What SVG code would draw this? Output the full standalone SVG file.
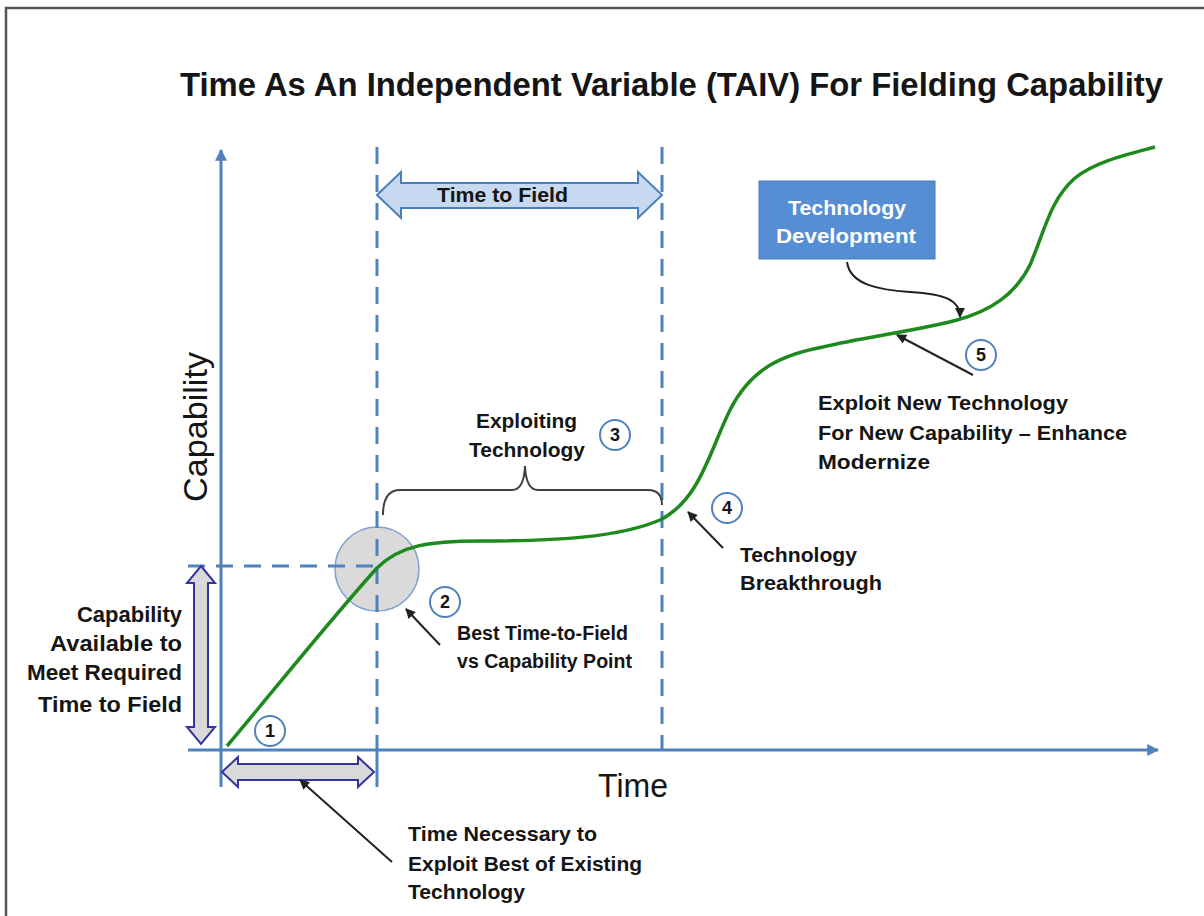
<svg xmlns="http://www.w3.org/2000/svg" width="1204" height="916" viewBox="0 0 1204 916">
<style>
text{font-family:"Liberation Sans",Arial,sans-serif;fill:#151515}
.b{font-weight:bold;font-size:21px}
.l{font-size:22.5px}
.s{font-size:19.5px}
.axis{stroke:#4f81bd;stroke-width:3;fill:none}
.dash{stroke:#4f81bd;stroke-width:3;fill:none;stroke-dasharray:17 11}
.num{fill:#fff;stroke:#4f81bd;stroke-width:2}
.nt{font-weight:bold;font-size:18px;text-anchor:middle}
.ptr{stroke:#222;stroke-width:2;fill:none;marker-end:url(#ah)}
.dbl{fill:#d9d9d9;stroke:#34349c;stroke-width:2}
</style>
<defs>
<marker id="ah" viewBox="0 0 10 10" refX="9" refY="5" markerWidth="12" markerHeight="10" markerUnits="userSpaceOnUse" orient="auto"><path d="M0,0 L10,5 L0,10 Z" fill="#222"/></marker>
<marker id="ax" viewBox="0 0 10 10" refX="9" refY="5" markerWidth="12" markerHeight="12" markerUnits="userSpaceOnUse" orient="auto"><path d="M0,0 L10,5 L0,10 Z" fill="#4f81bd"/></marker>
</defs>
<rect x="0" y="0" width="1204" height="916" fill="#fff"/>
<rect x="6" y="8" width="1220" height="940" fill="none" stroke="#555" stroke-width="2.5"/>
<g id="title"><text x="180" y="96" font-size="32.5" font-weight="bold" textLength="983" lengthAdjust="spacingAndGlyphs">Time As An Independent Variable (TAIV) For Fielding Capability</text></g>
<g id="best-point"><circle cx="377" cy="569" r="42" fill="#d4d4d4" fill-opacity="0.85" stroke="#7f9fcf" stroke-width="1.5"/></g>
<g id="axes">
<path class="axis" d="M221,787 L221,150" marker-end="url(#ax)"/>
<path class="axis" d="M188,750 L1158,750" marker-end="url(#ax)"/>
<path class="axis" d="M377,750 L377,787"/>
<path class="dash" d="M377,147 L377,750"/>
<path class="dash" d="M662,147 L662,750"/>
<path class="dash" d="M188,566 L377,566"/>
<text transform="translate(207,427) rotate(-90)" font-size="34" text-anchor="middle" textLength="150" lengthAdjust="spacingAndGlyphs">Capability</text>
<text x="598" y="797" font-size="33" textLength="70" lengthAdjust="spacingAndGlyphs">Time</text>
</g>
<g id="curve"><path d="M227,746 C280,683 330,620 377,568 C400,545 430,541 480,541 C560,541 620,537 660,520 C700,500 710,450 730,410 C750,370 780,355 823,347 C860,338 920,330 957,320 C990,311 1015,295 1030,265 C1045,230 1050,200 1075,178 C1095,162 1125,155 1155,147" fill="none" stroke="#1e8a1e" stroke-width="3.5"/></g>
<g id="time-to-field">
<path d="M377,195 L401,172 L401,183 L638,183 L638,172 L662,195 L638,218 L638,208 L401,208 L401,218 Z" fill="#c6d9f1" stroke="#4a7ebb" stroke-width="2"/>
<text class="b" x="437" y="202" textLength="131" lengthAdjust="spacingAndGlyphs">Time to Field</text>
</g>
<g id="capability-available">
<path class="dbl" d="M201,566 L215,583 L208,583 L208,727 L215,727 L201,744 L187,727 L194,727 L194,583 L187,583 Z"/>
<text class="b l" x="182" y="622" text-anchor="end" textLength="105" lengthAdjust="spacingAndGlyphs">Capability</text>
<text class="b l" x="182" y="651" text-anchor="end" textLength="132" lengthAdjust="spacingAndGlyphs">Available to</text>
<text class="b l" x="182" y="680" text-anchor="end" textLength="155" lengthAdjust="spacingAndGlyphs">Meet Required</text>
<text class="b l" x="182" y="712" text-anchor="end" textLength="144" lengthAdjust="spacingAndGlyphs">Time to Field</text>
</g>
<g id="time-necessary">
<path class="dbl" d="M222,772 L238,757 L238,764 L358,764 L358,757 L374,772 L358,787 L358,780 L238,780 L238,787 Z"/>
<text class="b" x="408" y="841" textLength="189" lengthAdjust="spacingAndGlyphs">Time Necessary to</text>
<text class="b" x="408" y="871" textLength="234" lengthAdjust="spacingAndGlyphs">Exploit Best of Existing</text>
<text class="b" x="408" y="899" textLength="117" lengthAdjust="spacingAndGlyphs">Technology</text>
</g>
<g id="exploiting">
<path d="M383,515 Q383,490 400,490 L512,490 Q524,490 525,466 Q526,490 538,490 L648,490 Q662,490 662,505" fill="none" stroke="#404040" stroke-width="2"/>
<text class="b" x="476" y="428" textLength="101" lengthAdjust="spacingAndGlyphs">Exploiting</text>
<text class="b" x="469" y="457" textLength="116" lengthAdjust="spacingAndGlyphs">Technology</text>
</g>
<g id="best-label">
<text class="b s" x="457" y="640" textLength="171" lengthAdjust="spacingAndGlyphs">Best Time-to-Field</text>
<text class="b s" x="457" y="668" textLength="175" lengthAdjust="spacingAndGlyphs">vs Capability Point</text>
</g>
<g id="breakthrough">
<text class="b" x="740" y="562" textLength="117" lengthAdjust="spacingAndGlyphs">Technology</text>
<text class="b" x="740" y="590" textLength="142" lengthAdjust="spacingAndGlyphs">Breakthrough</text>
</g>
<g id="exploit-new">
<text class="b" x="818" y="410" textLength="250" lengthAdjust="spacingAndGlyphs">Exploit New Technology</text>
<text class="b" x="818" y="440" textLength="309" lengthAdjust="spacingAndGlyphs">For New Capability – Enhance</text>
<text class="b" x="818" y="469" textLength="112" lengthAdjust="spacingAndGlyphs">Modernize</text>
</g>
<g id="tech-dev">
<rect x="759" y="181" width="176" height="78" fill="#558ed5" stroke="#4a7ebb" stroke-width="1"/>
<text class="b" x="847" y="215" text-anchor="middle" style="fill:#fff" textLength="118" lengthAdjust="spacingAndGlyphs">Technology</text>
<text class="b" x="846" y="243" text-anchor="middle" style="fill:#fff" textLength="140" lengthAdjust="spacingAndGlyphs">Development</text>
</g>
<g id="markers">
<circle class="num" cx="270" cy="731" r="15"/><text class="nt" x="270" y="737">1</text>
<circle class="num" cx="445" cy="602" r="15"/><text class="nt" x="445" y="608">2</text>
<circle class="num" cx="615" cy="435" r="15"/><text class="nt" x="615" y="441">3</text>
<circle class="num" cx="727" cy="508" r="15"/><text class="nt" x="727" y="514">4</text>
<circle class="num" cx="981" cy="355" r="15"/><text class="nt" x="981" y="361">5</text>
</g>
<g id="connectors">
<path class="ptr" d="M392,862 L300,780"/>
<path class="ptr" d="M440,645 L406,609"/>
<path class="ptr" d="M723,548 L688,512"/>
<path class="ptr" d="M973,375 L897,335"/>
<path class="ptr" d="M847,262 C850,285 880,290 910,292 C945,294 960,300 960,317"/>
</g>
</svg>
